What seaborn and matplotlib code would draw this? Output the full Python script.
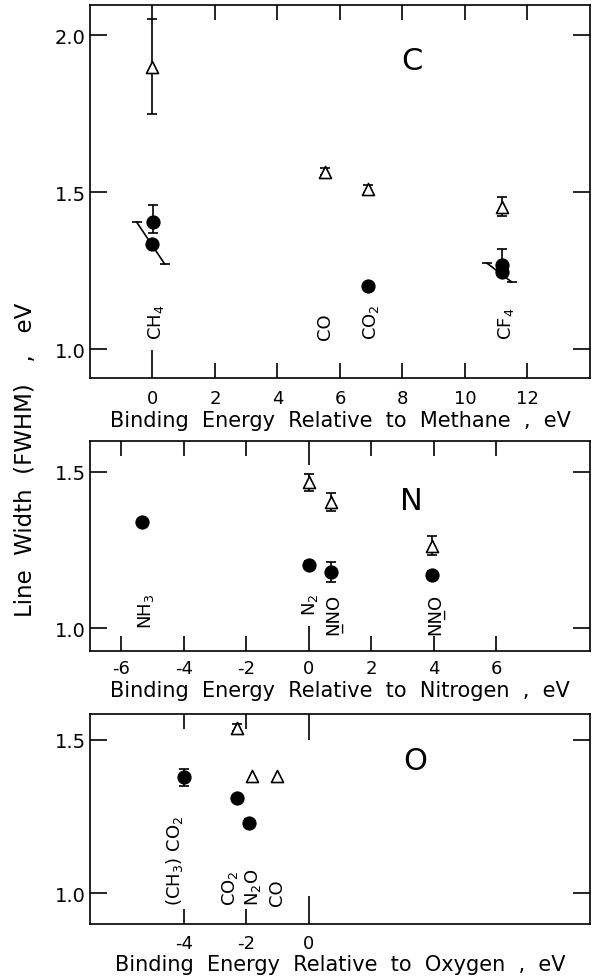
import matplotlib
matplotlib.use('Agg')
import matplotlib.pyplot as plt
import seaborn as sns
import pandas as pd

# ---- carbon panel ----
c_names = ['CH$_4$', 'CO', 'CO$_2$', 'CF$_4$']
c_name_x = [0.1, 5.52, 7.0, 11.3]
c_tri_x = [0.0, 5.52, 6.9, 11.18]
c_tri_y = [1.90, 1.565, 1.51, 1.453]
c_tri_err = [0.15, 0.012, 0.012, 0.03]
c_dot_x = [0.02, 0.0, 6.9, 11.2, 11.2]
c_dot_y = [1.405, 1.334, 1.20, 1.268, 1.244]
c_dot_lo = [0.035, 0.0, 0.012, 0.0, 0.0]
c_dot_hi = [0.055, 0.0, 0.012, 0.05, 0.0]
c_slant_x = [[-0.51, 0.39], [10.70, 11.49]]
c_slant_y = [[1.405, 1.271], [1.274, 1.214]]

# ---- nitrogen panel ----
n_names = ['NH$_3$', 'N$_2$', 'N\u0332NO', 'NN\u0332O']
n_name_x = [-5.2, 0.05, 0.78, 4.05]
n_tri_x = [0.0, 0.72, 3.93]
n_tri_y = [1.466, 1.402, 1.264]
n_tri_err = [0.028, 0.029, 0.029]
n_dot_x = [-5.33, 0.0, 0.72, 3.93]
n_dot_y = [1.338, 1.202, 1.181, 1.170]
n_dot_lo = [0.012, 0.012, 0.032, 0.012]
n_dot_hi = [0.012, 0.012, 0.032, 0.012]

# ---- oxygen panel ----
o_names = ['(CH$_3$) CO$_2$', 'CO$_2$', 'N$_2$O', 'CO']
o_name_x = [-4.3, -2.53, -1.77, -1.0]
o_tri_x = [-2.31, -1.83, -1.0]
o_tri_y = [1.54, 1.382, 1.382]
o_tri_err = [0.01, 0.0, 0.0]
o_dot_x = [-4.0, -2.31, -1.92]
o_dot_y = [1.377, 1.309, 1.23]
o_dot_lo = [0.028, 0.012, 0.012]
o_dot_hi = [0.028, 0.012, 0.012]

sns.set_style('ticks')
plt.rcParams['font.family'] = ['DejaVu Sans']
plt.rcParams['axes.unicode_minus'] = False
for k in ['text.color', 'axes.labelcolor', 'xtick.color', 'ytick.color', 'axes.edgecolor']:
    plt.rcParams[k] = 'black'

fig = plt.figure(figsize=(5.92, 9.78), dpi=100)


def draw_points(ax, tri_x, tri_y, tri_err, dot_x, dot_y, dot_lo, dot_hi):
    tri = pd.DataFrame({'x': tri_x, 'y': tri_y, 'e': tri_err})
    dot = pd.DataFrame({'x': dot_x, 'y': dot_y, 'lo': dot_lo, 'hi': dot_hi})
    t = tri[tri['e'] > 0]
    ax.errorbar(t['x'], t['y'], yerr=t['e'], fmt='none', ecolor='black',
                elinewidth=1.2, capsize=3.6, capthick=1.2, zorder=2)
    d = dot[(dot['lo'] > 0) | (dot['hi'] > 0)]
    ax.errorbar(d['x'], d['y'], yerr=[d['lo'], d['hi']], fmt='none', ecolor='black',
                elinewidth=1.2, capsize=3.6, capthick=1.2, zorder=2)
    sns.scatterplot(data=tri, x='x', y='y', marker='^', s=75, facecolor='white',
                    edgecolor='black', linewidth=1.2, ax=ax, zorder=3, legend=False)
    sns.scatterplot(data=dot, x='x', y='y', marker='o', s=90, color='black',
                    edgecolor='black', ax=ax, zorder=3, legend=False)


def style_axes(ax, xlim, ylim, xticks, yticks, xlabel, pad, zero_len):
    ax.set_xlim(xlim)
    ax.set_ylim(ylim)
    ax.set_xticks(xticks)
    ax.set_xticklabels([str(v) for v in xticks])
    ax.set_yticks(yticks)
    ax.set_yticklabels([f'{v:.1f}' for v in yticks])
    ax.tick_params(axis='x', direction='in', length=11, width=1.2, top=True,
                   labelsize=13, pad=pad)
    ax.tick_params(axis='y', direction='in', length=12, width=1.2, right=True,
                   labelsize=14, pad=3)
    for s in ax.spines.values():
        s.set_linewidth(1.2)
    ax.set_xlabel(xlabel, fontsize=15, labelpad=2)
    ax.set_ylabel('')
    ticks = ax.xaxis.get_major_ticks()
    i0 = list(xticks).index(0)
    ticks[i0].tick1line.set_markersize(zero_len[0])
    ticks[i0].tick2line.set_markersize(zero_len[1])


def draw_names(ax, names, xs, y, va):
    for name, x in zip(names, xs):
        ax.text(x, y, name, rotation=90, ha='center', va=va, fontsize=13)


# carbon
ax1 = fig.add_axes([0.152, 0.6125, 0.8446, 0.3814])
draw_points(ax1, c_tri_x, c_tri_y, c_tri_err, c_dot_x, c_dot_y, c_dot_lo, c_dot_hi)
for sx, sy in zip(c_slant_x, c_slant_y):
    ax1.plot(sx, sy, color='black', lw=1.2, zorder=2)
    ax1.plot(sx, sy, ls='none', marker='_', ms=7, mew=1.2, color='black', zorder=2)
draw_names(ax1, c_names, c_name_x, 1.032, 'bottom')
ax1.text(8.3, 1.92, 'C', fontsize=22, ha='center', va='center')
style_axes(ax1, (-2, 14), (0.908, 2.096), [0, 2, 4, 6, 8, 10, 12], [1.0, 1.5, 2.0],
           'Binding  Energy  Relative  to  Methane  ,  eV', 8, (20, 11))

# nitrogen
ax2 = fig.add_axes([0.152, 0.3336, 0.8446, 0.2148])
draw_points(ax2, n_tri_x, n_tri_y, n_tri_err, n_dot_x, n_dot_y, n_dot_lo, n_dot_hi)
draw_names(ax2, n_names, n_name_x, 1.113, 'top')
ax2.text(3.3, 1.407, 'N', fontsize=22, ha='center', va='center')
style_axes(ax2, (-7, 9), (0.928, 1.599), [-6, -4, -2, 0, 2, 4, 6], [1.0, 1.5],
           'Binding  Energy  Relative  to  Nitrogen  ,  eV', 6, (18, 17))

# oxygen
ax3 = fig.add_axes([0.152, 0.0542, 0.8446, 0.2147])
draw_points(ax3, o_tri_x, o_tri_y, o_tri_err, o_dot_x, o_dot_y, o_dot_lo, o_dot_hi)
draw_names(ax3, o_names, o_name_x, 0.961, 'bottom')
ax3.text(3.4, 1.432, 'O', fontsize=22, ha='center', va='center')
style_axes(ax3, (-7, 9), (0.899, 1.584), [-4, -2, 0], [1.0, 1.5],
           'Binding  Energy  Relative  to  Oxygen  ,  eV', 7, (20, 19))

fig.text(0.043, 1 - 617 / 978, 'Line  Width  (FWHM)   ,   eV', rotation=90,
         ha='center', va='bottom', fontsize=16.5)

fig.savefig('out.png', dpi=100)
